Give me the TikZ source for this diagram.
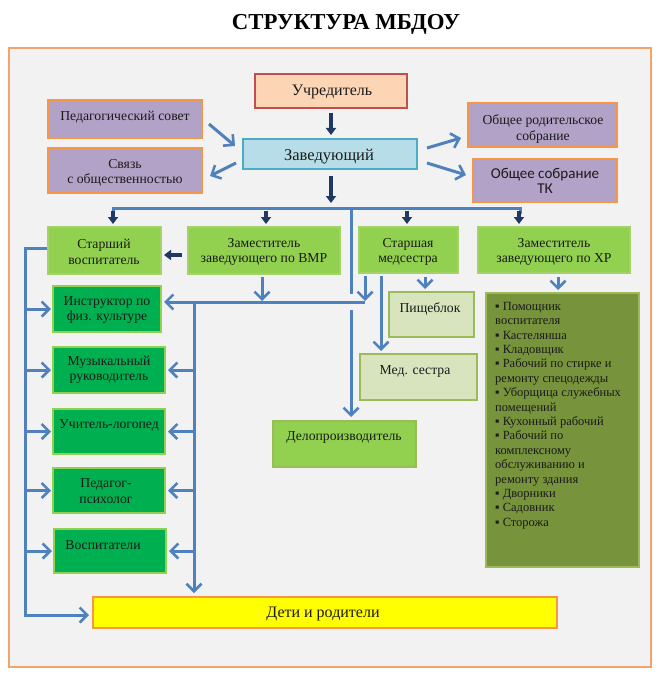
\documentclass[tikz,border=0pt]{standalone}
\usepackage{fontspec}
\setmainfont{Liberation Serif}
\newfontfamily\calibfont{Carlito}
\usetikzlibrary{arrows.meta,calc}
\definecolor{frameor}{HTML}{F2A46A}
\definecolor{bggray}{HTML}{F2F2F2}
\definecolor{peach}{HTML}{FCD5B5}
\definecolor{redbord}{HTML}{C0504D}
\definecolor{cyanfill}{HTML}{B7DEE8}
\definecolor{cyanbord}{HTML}{4BACC6}
\definecolor{purp}{HTML}{B3A2C7}
\definecolor{orbord}{HTML}{F79646}
\definecolor{lgreen}{HTML}{92D050}
\definecolor{lgbord}{HTML}{A3D16A}
\definecolor{dgreen}{HTML}{00B050}
\definecolor{pale}{HTML}{D7E4BD}
\definecolor{olivebord}{HTML}{9BBB59}
\definecolor{olive}{HTML}{77933C}
\definecolor{yel}{HTML}{FFFF00}
\definecolor{blueln}{HTML}{4F81BD}
\definecolor{navyln}{HTML}{1F3864}
\definecolor{txtc}{HTML}{1A1A1A}
\tikzset{
  box/.style={draw, line width=2pt, inner sep=0pt},
  lab/.style={inner sep=0pt, align=center, text=txtc, yshift=-2pt, font=\fontsize{13.7}{15.5}\selectfont},
  bigl/.style={inner sep=0pt, align=center, text=txtc, yshift=-2pt, font=\fontsize{16}{18}\selectfont},
  blueline/.style={draw=blueln, line width=3pt},
  blueopen/.style={draw=blueln, line width=3pt, -{Straight Barb[length=7.5pt,width=15pt,line width=2.6pt]}},
  navyarr/.style={draw=navyln, line width=3.5pt, -{Triangle[length=7pt,width=10pt]}},
}
\begin{document}
\begin{tikzpicture}[x=1pt,y=-1pt]
\useasboundingbox (0,0) rectangle (663,687);
\fill[white] (0,0) rectangle (663,687);
% title
\node[inner sep=0pt, font=\fontsize{22.8}{25}\selectfont\bfseries] (title) at (346,24) {СТРУКТУРА МБДОУ};
% frame
\node[draw=frameor, fill=bggray, line width=2pt, inner sep=0pt, minimum width=642, minimum height=619] (frame) at (330,357.5) {};
% boxes
\node[box, draw=redbord, fill=peach, minimum width=152, minimum height=34] (uch) at (331,91) {};
\node[box, draw=cyanbord, fill=cyanfill, minimum width=174, minimum height=30] (zav) at (330,154) {};
\node[box, draw=orbord, fill=purp, minimum width=154, minimum height=38] (ped) at (125,119) {};
\node[box, draw=orbord, fill=purp, minimum width=154, minimum height=45] (svz) at (125,170.5) {};
\node[box, draw=orbord, fill=purp, minimum width=149, minimum height=44] (ors) at (542.5,125) {};
\node[box, draw=orbord, fill=purp, minimum width=144, minimum height=43] (tk) at (545,180.5) {};
\node[box, draw=lgbord, fill=lgreen, minimum width=113, minimum height=47] (star) at (104.5,250.5) {};
\node[box, draw=lgbord, fill=lgreen, minimum width=152, minimum height=47] (vmr) at (264,250.5) {};
\node[box, draw=lgbord, fill=lgreen, minimum width=99, minimum height=46] (smed) at (408.5,250) {};
\node[box, draw=lgbord, fill=lgreen, minimum width=152, minimum height=46] (hr) at (554,250) {};
\node[box, draw=lgreen, fill=dgreen, minimum width=108, minimum height=46] (instr) at (107,309) {};
\node[box, draw=lgreen, fill=dgreen, minimum width=112, minimum height=46] (mus) at (109,370) {};
\node[box, draw=lgreen, fill=dgreen, minimum width=112, minimum height=45] (logo) at (109,431.5) {};
\node[box, draw=lgreen, fill=dgreen, minimum width=112, minimum height=45] (psy) at (109,490.5) {};
\node[box, draw=lgreen, fill=dgreen, minimum width=112, minimum height=44] (vos) at (110,551) {};
\node[box, draw=olivebord, fill=pale, minimum width=85, minimum height=45] (pish) at (431.5,314.5) {};
\node[box, draw=olivebord, fill=pale, minimum width=117, minimum height=46] (med) at (418.5,377) {};
\node[box, draw=olivebord, fill=lgreen, minimum width=143, minimum height=46] (delo) at (344.5,444) {};
\node[box, draw=olivebord, fill=olive, minimum width=153, minimum height=274] (list) at (562.5,430) {};
\node[box, draw=orbord, fill=yel, minimum width=464, minimum height=31] (deti) at (325,612.5) {};
% texts
\node[bigl] (tuch) at (332,90) {Учредитель};
\node[bigl, font=\fontsize{16.5}{18}\selectfont] (tzav) at (329,155) {Заведующий};
\node[lab] (tped) at (125,115) {Педагогический совет};
\node[lab] (tsvz) at (125,171) {Связь\\с общественностью};
\node[lab] (tors) at (543,127) {Общее родительское\\собрание};
\node[inner sep=0pt, align=center, text=txtc, yshift=-1pt, font=\calibfont\fontsize{15}{15}\selectfont] (ttk) at (545,180) {Общее собрание\\ТК};
\node[lab] (tstar) at (104,250) {Старший\\воспитатель};
\node[lab] (tvmr) at (264,250) {Заместитель\\заведующего по ВМР};
\node[lab] (tsmed) at (408,250) {Старшая\\медсестра};
\node[lab] (thr) at (554,250) {Заместитель\\заведующего по ХР};
\node[lab] (tinstr) at (107,308) {Инструктор по\\физ. культуре};
\node[lab] (tmus) at (109,368) {Музыкальный\\руководитель};
\node[lab] (tlogo) at (109,423) {Учитель-логопед};
\node[lab] (tpsy) at (106,489) {Педагог-\\психолог};
\node[lab] (tvos) at (103,543) {Воспитатели};
\node[lab] (tpish) at (430,307) {Пищеблок};
\node[lab] (tmed) at (415,369) {Мед. сестра};
\node[lab] (tdelo) at (344,435) {Делопроизводитель};
\node[bigl] (tdeti) at (323,612) {Дети и родители};
\node[inner sep=0pt, align=left, anchor=north west, text=txtc, font=\fontsize{12.5}{14.4}\selectfont] (tlist) at (495,302) {▪ Помощник\\воспитателя\\▪ Кастелянша\\▪ Кладовщик\\▪ Рабочий по стирке и\\ремонту спецодежды\\▪ Уборщица служебных\\помещений\\▪ Кухонный рабочий\\▪ Рабочий по\\комплексному\\обслуживанию и\\ремонту здания\\▪ Дворники\\▪ Садовник\\▪ Сторожа};
% coordinates
\coordinate (busL) at (113,208);
\coordinate (busR) at (520,208);
\coordinate (b2) at (266,208);
\coordinate (b3) at (407,208);
\coordinate (b5) at (351,208);
\coordinate (leftbot) at (25,615);
\coordinate (inTop) at (194,302);
\coordinate (hR) at (365,302);
\coordinate (m1) at (381,0);
\coordinate (p1) at (425,0);
\coordinate (h1) at (558,0);
% blue connectors
\draw[blueopen] ($(ped.east)+(6,5)$) -- ($(zav.west)+(-7,-8)$);
\draw[blueopen] ($(zav.west)+(-6,9)$) -- ($(svz.east)+(7,5.5)$);
\draw[blueopen] ($(zav.east)+(9,-6)$) -- ($(ors.west)+(-6,13)$);
\draw[blueopen] ($(zav.east)+(9,9)$) -- ($(tk.west)+(-6,-5.5)$);
\draw[blueline] ($(busL)+(0,6)$) -- (busL) -- (busR) -- ($(busR)+(0,6)$);
\draw[blueline] (b5) -- ($(b5 |- hR)+(0,-8)$);
\draw[blueopen] ($(b5 |- hR)+(0,8)$) -- ($(b5 |- delo.north)+(0,-3)$);
\draw[blueopen] ($(star.west)+(0,-2)$) -| (leftbot) -- ($(deti.west)+(-3,2.5)$);
\foreach \b in {instr,mus,logo,psy,vos}{
  \draw[blueopen] (leftbot |- \b.west) -- ($(\b.west)+(-1,0)$);
}
\draw[blueopen] (inTop) -- ($(inTop |- deti.north)+(0,-3)$);
\foreach \b in {mus,logo,psy,vos}{
  \draw[blueopen] (inTop |- \b.east) -- ($(\b.east)+(2,0)$);
}
\draw[blueopen] (hR) -- ($(instr.east |- hR)+(2,0)$);
\draw[blueopen] ($(vmr.south)+(-2,2)$) -- ($(vmr.south |- hR)+(-2,-1)$);
\draw[blueopen] ($(hR |- smed.south)+(0,2)$) -- ($(hR)+(0,-1)$);
\draw[blueopen] ($(m1 |- smed.south)+(0,2)$) -- ($(m1 |- med.north)+(0,-2)$);
\draw[blueopen] ($(p1 |- smed.south)+(0,3)$) -- ($(p1 |- pish.north)+(0,-2)$);
\draw[blueopen] ($(h1 |- hr.south)+(0,3)$) -- ($(h1 |- list.north)+(0,-2)$);
% navy arrows
\draw[navyarr] ($(uch.south)+(0,4)$) -- ($(uch.south |- zav.north)+(0,-3)$);
\draw[navyarr] ($(uch.south |- zav.south)+(0,6)$) -- ($(uch.south |- busL)+(0,-5)$);
\draw[navyarr] ($(busL)+(0,3)$) -- ($(busL |- star.north)+(0,-2)$);
\draw[navyarr] ($(b2)+(0,3)$) -- ($(b2 |- vmr.north)+(0,-2)$);
\draw[navyarr] ($(b3)+(0,3)$) -- ($(b3 |- smed.north)+(0,-2)$);
\draw[navyarr] ($(busR)+(-1,3)$) -- ($(busR |- hr.north)+(-1,-2)$);
\draw[navyarr] ($(vmr.west)+(-5,4.5)$) -- ($(star.east)+(2,4.5)$);
\end{tikzpicture}
\end{document}
